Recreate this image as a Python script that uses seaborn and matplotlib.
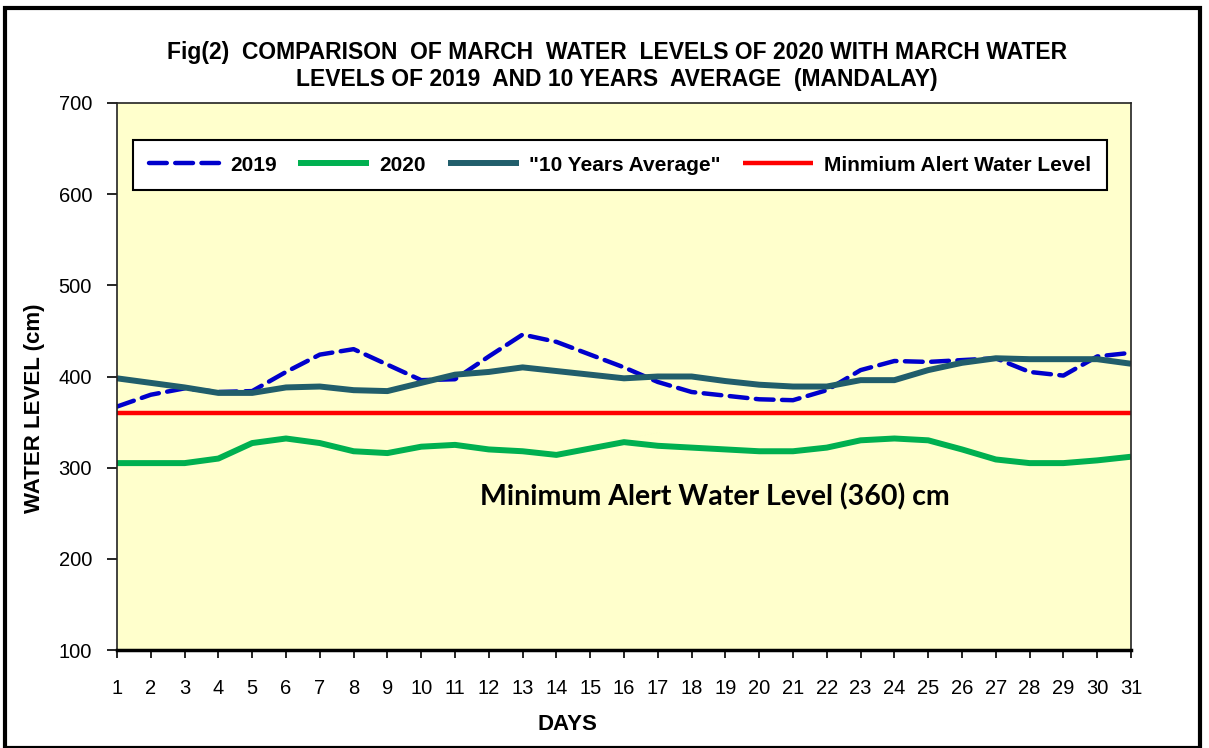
import pandas as pd
import matplotlib
matplotlib.use("Agg")
import matplotlib.pyplot as plt
import seaborn as sns
from matplotlib.patches import Rectangle

# March daily water levels at Mandalay (cm)
days = list(range(1, 32))
levels_2019 = [367, 380, 387, 383, 384, 405, 424, 430, 413, 396, 397, 422, 446, 438, 424, 410,
               394, 383, 379, 375, 374, 385, 407, 417, 416, 418, 420, 405, 401, 422, 426]
levels_2020 = [305, 305, 305, 310, 327, 332, 327, 318, 316, 323, 325, 320, 318, 314, 321, 328,
               324, 322, 320, 318, 318, 322, 330, 332, 330, 320, 309, 305, 305, 308, 312]
levels_avg = [398, 393, 388, 382, 382, 388, 389, 385, 384, 393, 402, 405, 410, 406, 402, 398,
              400, 400, 395, 391, 389, 389, 396, 396, 407, 415, 420, 419, 419, 419, 414]
alert_level = 360

df = pd.DataFrame({"day": days, "2019": levels_2019, "2020": levels_2020,
                   '"10 Years Average"': levels_avg})
df["Minmium Alert Water Level"] = alert_level

sns.set_style("ticks")
plt.rcParams["font.family"] = ["Liberation Sans", "DejaVu Sans"]
plt.rcParams["text.color"] = "black"
plt.rcParams["xtick.color"] = "black"
plt.rcParams["ytick.color"] = "black"

fig = plt.figure(figsize=(12.09, 7.48), dpi=100)
ax = fig.add_axes([117 / 1209, 1 - 650 / 748, 1014 / 1209, 547 / 748])
ax.set_facecolor("#FFFFCC")

styles = {
    "2019": dict(color="#0000CC", lw=3.2, ls=(0, (4, 1.9))),
    "2020": dict(color="#00B050", lw=4.3, ls="-"),
    '"10 Years Average"': dict(color="#215E6B", lw=4.3, ls="-"),
    "Minmium Alert Water Level": dict(color="#FF0000", lw=3.2, ls="-"),
}
for name, st in styles.items():
    sns.lineplot(data=df, x="day", y=name, ax=ax, label=name, color=st["color"],
                 linewidth=st["lw"], linestyle=st["ls"], solid_joinstyle="round",
                 solid_capstyle="butt", dash_capstyle="round")

ax.set_xlim(1, 31)
ax.set_ylim(100, 700)
ax.set_xticks(days)
ax.set_yticks(range(100, 701, 100))
ax.tick_params(axis="x", length=6, width=1.2, pad=15, labelsize=14.5)
ax.tick_params(axis="y", length=7, width=1.2, pad=11, labelsize=14.5)
ax.set_xlabel("")
ax.set_ylabel("")
for side in ["left", "top", "right"]:
    ax.spines[side].set_linewidth(1.2)
    ax.spines[side].set_color("#222222")
ax.spines["bottom"].set_linewidth(2.5)
ax.spines["bottom"].set_color("black")

leg = ax.legend(loc="upper left", bbox_to_anchor=(16 / 1014, 1 - 37 / 547), ncol=4,
                prop=dict(weight="bold", size=15), handlelength=3.4, handletextpad=0.5,
                columnspacing=1.05, frameon=True, fancybox=False, borderpad=0.75,
                borderaxespad=0)
leg.get_frame().set_edgecolor("black")
leg.get_frame().set_linewidth(1.5)
leg.get_frame().set_facecolor("white")
leg.get_frame().set_alpha(1)

ax.text(0.59, 0.28, "Minimum Alert Water Level (360) cm", transform=ax.transAxes,
        ha="center", va="center", fontsize=20.5, fontweight="bold",
        family=["Lato", "DejaVu Sans"], color="black")

fig.text(617 / 1209, 1 - 66 / 748,
         "Fig(2)  COMPARISON  OF MARCH  WATER  LEVELS OF 2020 WITH MARCH WATER\n"
         "LEVELS OF 2019  AND 10 YEARS  AVERAGE  (MANDALAY)",
         ha="center", va="center", fontsize=16.5, fontweight="bold", linespacing=1.2)
fig.text(35 / 1209, 1 - 408 / 748, "WATER LEVEL (cm)", rotation=90, ha="center",
         va="center", fontsize=16, fontweight="bold")
fig.text(567 / 1209, 1 - 725 / 748, "DAYS", ha="center", va="center", fontsize=16,
         fontweight="bold")

# outer chart border
fig.patches.append(Rectangle((5 / 1209, 0), 1195 / 1209, 1 - 8 / 748, transform=fig.transFigure,
                             fill=False, edgecolor="black", linewidth=3))

fig.savefig("out.png", dpi=100, facecolor="white")
